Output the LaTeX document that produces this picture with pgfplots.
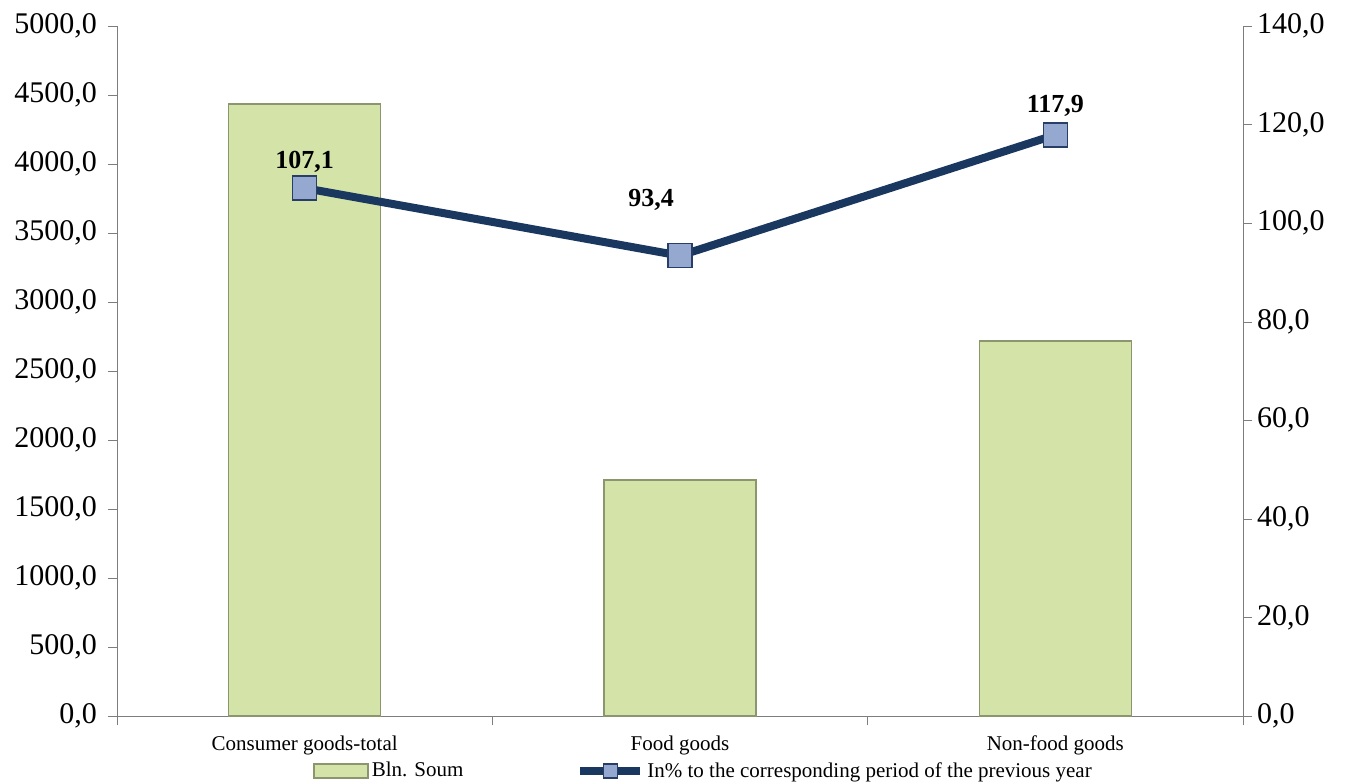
\documentclass[border=0pt]{standalone}
\usepackage{fontspec}
\setmainfont{Liberation Serif}
\usepackage{pgfplots}
\pgfplotsset{compat=1.18}
\definecolor{barfill}{RGB}{212,227,168}
\definecolor{baredge}{RGB}{140,150,110}
\definecolor{linecol}{RGB}{25,55,95}
\definecolor{markfill}{RGB}{148,168,208}
\definecolor{markedge}{RGB}{40,62,102}
\definecolor{axisgray}{RGB}{125,125,125}
\pgfplotstableread{
x y
0 4435
1 1710
2 2717
}\bars
\pgfplotstableread{
x y dx dy
0 107.1 0 13
1 93.4 -14.5 28
2 117.9 0 14.5
}\pct
\pgfplotsset{
  common/.style={
    scale only axis, width=563pt, height=345pt,
    xmin=-0.5, xmax=2.5,
    /pgf/number format/assume math mode=true,
    /pgf/number format/fixed,
    /pgf/number format/fixed zerofill,
    /pgf/number format/precision=1,
    /pgf/number format/use comma,
    /pgf/number format/1000 sep={},
    tick align=outside,
    major tick length=4.5pt,
    axis line style={axisgray},
    tick style={axisgray},
    yticklabel style={font=\fontsize{15}{18}\selectfont, text=black},
  }
}
\begin{document}
\begin{tikzpicture}
\begin{axis}[common,
  ymin=0, ymax=5000, ytick={0,500,...,5000},
  axis x line*=bottom, axis y line*=left,
  xtick={0,1,2},
  xticklabels={Consumer goods-total, Food goods, Non-food goods},
  xticklabel style={font=\fontsize{10.5}{12}\selectfont, text=black, yshift=-2pt},
  major x tick style={draw=none},
  minor xtick={-0.5,0.5,1.5,2.5},
  minor tick length=4.5pt,
  yticklabel style={xshift=-2pt},
  legend style={at={(0.5,-0.08)}, anchor=center, xshift=12pt, draw=none, fill=none,
    font=\fontsize{10.5}{12}\selectfont, legend columns=2,
    nodes={inner xsep=1.5pt},
    /tikz/every even column/.append style={column sep=55pt}},
]
\coordinate (O) at (rel axis cs:0,0);
\addplot[ybar, bar width=76pt, fill=barfill, draw=baredge, line width=0.8pt,
  legend image code/.code={\fill[barfill, draw=baredge] (0pt,-3.5pt) rectangle (27pt,3.5pt);}]
  table[x=x,y=y]{\bars};
\addlegendentry{Bln. Soum}
\addlegendimage{legend image code/.code={
  \draw[linecol, line width=4pt] (0pt,0pt) -- (30pt,0pt);
  \fill[markfill, draw=markedge, line width=0.8pt] (11.5pt,-3.5pt) rectangle (18.5pt,3.5pt);}}
\addlegendentry{In\% to the corresponding period of the previous year}
\end{axis}
\begin{axis}[common,
  ymin=0, ymax=140, ytick={0,20,...,140},
  axis y line*=right, axis x line=none,
  yticklabel style={xshift=-1pt},
]
\addplot[linecol, line width=4pt, mark=square*,
  mark size=6pt,
  mark options={fill=markfill, draw=markedge, line width=0.8pt},
  visualization depends on={\thisrow{dx}\as\dx},
  visualization depends on={\thisrow{dy}\as\dy},
  nodes near coords,
  point meta=y,
  every node near coord/.append style={anchor=center, xshift=\dx pt, yshift=\dy pt,
     font=\fontsize{13}{15}\selectfont\bfseries, text=black},
] table[x=x,y=y]{\pct};
\end{axis}
\pgfresetboundingbox
\path[use as bounding box] (O) ++(-58.5pt,-33.5pt) rectangle ++(675.5pt,391.5pt);
\end{tikzpicture}
\end{document}
